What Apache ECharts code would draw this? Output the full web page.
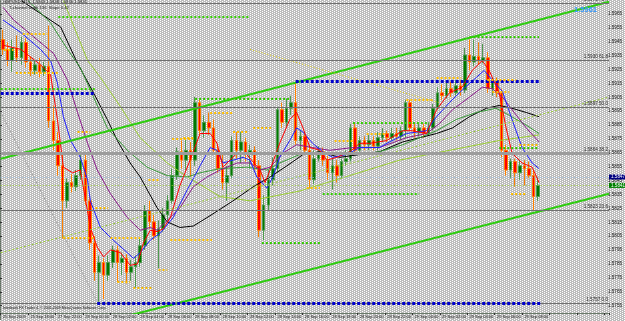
<!DOCTYPE html>
<html>
<head>
<meta charset="utf-8">
<script src="https://cdn.jsdelivr.net/npm/echarts@6/dist/echarts.min.js"></script>
<style>
html, body { margin: 0; padding: 0; }
#chart { width: 625px; height: 321px; }
</style>
</head>
<body>
<div id="chart"></div>
<script>
// bottom scale, one label every 6 bars
const timeLabels = ['25 Sep 2009', '25 Sep 18:00', '27 Sep 22:00', '28 Sep 00:00', '28 Sep 02:00', '28 Sep 04:00',
  '28 Sep 06:00', '28 Sep 08:00', '28 Sep 10:00', '28 Sep 12:00', '28 Sep 14:00', '28 Sep 16:00', '28 Sep 18:00',
  '28 Sep 20:00', '28 Sep 22:00', '29 Sep 00:00', '29 Sep 02:00', '29 Sep 04:00', '29 Sep 06:00', '29 Sep 08:00'];
const slotCount = 133; // bars + empty shift space on the right

// [open, close, low, high]
const candles = [
  [1.5945, 1.5938, 1.5934, 1.5952], [1.5938, 1.5930, 1.5926, 1.5943], [1.5930, 1.5939, 1.5922, 1.5945],
  [1.5939, 1.5932, 1.5929, 1.5948], [1.5932, 1.5943, 1.5927, 1.5947], [1.5943, 1.5929, 1.5925, 1.5946],
  [1.5929, 1.5923, 1.5919, 1.5933], [1.5923, 1.5927, 1.5920, 1.5930], [1.5927, 1.5922, 1.5918, 1.5932],
  [1.5922, 1.5926, 1.5919, 1.5929], [1.5926, 1.5887, 1.5882, 1.5955], [1.5887, 1.5873, 1.5866, 1.5898],
  [1.5873, 1.5855, 1.5848, 1.5879], [1.5855, 1.5830, 1.5803, 1.5865], [1.5830, 1.5843, 1.5825, 1.5846],
  [1.5843, 1.5840, 1.5836, 1.5849], [1.5840, 1.5848, 1.5837, 1.5852], [1.5848, 1.5859, 1.5845, 1.5865],
  [1.5859, 1.5830, 1.5827, 1.5863], [1.5830, 1.5800, 1.5795, 1.5834], [1.5800, 1.5779, 1.5773, 1.5805],
  [1.5779, 1.5786, 1.5758, 1.5791], [1.5786, 1.5777, 1.5760, 1.5789], [1.5777, 1.5786, 1.5773, 1.5791],
  [1.5786, 1.5795, 1.5782, 1.5798], [1.5795, 1.5786, 1.5772, 1.5798], [1.5786, 1.5789, 1.5777, 1.5793],
  [1.5789, 1.5779, 1.5771, 1.5792], [1.5779, 1.5783, 1.5773, 1.5788], [1.5783, 1.5786, 1.5768, 1.5791],
  [1.5786, 1.5798, 1.5783, 1.5803], [1.5798, 1.5823, 1.5795, 1.5827], [1.5823, 1.5815, 1.5810, 1.5830],
  [1.5815, 1.5805, 1.5802, 1.5820], [1.5805, 1.5810, 1.5782, 1.5816], [1.5810, 1.5820, 1.5808, 1.5825],
  [1.5820, 1.5830, 1.5816, 1.5834], [1.5830, 1.5848, 1.5828, 1.5853], [1.5848, 1.5865, 1.5845, 1.5868],
  [1.5865, 1.5859, 1.5853, 1.5873], [1.5859, 1.5866, 1.5852, 1.5875], [1.5866, 1.5859, 1.5847, 1.5872],
  [1.5859, 1.5900, 1.5855, 1.5904], [1.5900, 1.5880, 1.5877, 1.5902], [1.5880, 1.5886, 1.5875, 1.5891],
  [1.5886, 1.5882, 1.5877, 1.5893], [1.5882, 1.5866, 1.5863, 1.5888], [1.5866, 1.5853, 1.5850, 1.5870],
  [1.5853, 1.5843, 1.5838, 1.5863], [1.5843, 1.5848, 1.5830, 1.5855], [1.5848, 1.5873, 1.5846, 1.5876],
  [1.5873, 1.5866, 1.5860, 1.5879], [1.5866, 1.5872, 1.5857, 1.5879], [1.5872, 1.5863, 1.5858, 1.5875],
  [1.5863, 1.5866, 1.5853, 1.5870], [1.5866, 1.5855, 1.5852, 1.5869], [1.5855, 1.5809, 1.5804, 1.5859],
  [1.5809, 1.5827, 1.5802, 1.5834], [1.5827, 1.5845, 1.5823, 1.5852], [1.5845, 1.5853, 1.5841, 1.5861],
  [1.5853, 1.5895, 1.5850, 1.5897], [1.5895, 1.5886, 1.5882, 1.5900], [1.5886, 1.5896, 1.5883, 1.5903],
  [1.5896, 1.5900, 1.5891, 1.5905], [1.5900, 1.5873, 1.5870, 1.5914], [1.5873, 1.5876, 1.5866, 1.5880],
  [1.5876, 1.5866, 1.5863, 1.5879], [1.5866, 1.5845, 1.5839, 1.5870], [1.5845, 1.5860, 1.5842, 1.5866],
  [1.5860, 1.5865, 1.5858, 1.5869], [1.5865, 1.5859, 1.5855, 1.5868], [1.5859, 1.5850, 1.5845, 1.5862],
  [1.5850, 1.5855, 1.5838, 1.5860], [1.5855, 1.5848, 1.5843, 1.5859], [1.5848, 1.5858, 1.5846, 1.5860],
  [1.5858, 1.5860, 1.5855, 1.5866], [1.5860, 1.5882, 1.5858, 1.5885], [1.5882, 1.5866, 1.5864, 1.5886],
  [1.5866, 1.5873, 1.5865, 1.5876], [1.5873, 1.5870, 1.5866, 1.5876], [1.5870, 1.5873, 1.5866, 1.5877],
  [1.5873, 1.5869, 1.5866, 1.5876], [1.5869, 1.5875, 1.5866, 1.5879], [1.5875, 1.5878, 1.5872, 1.5882],
  [1.5878, 1.5875, 1.5872, 1.5880], [1.5875, 1.5878, 1.5873, 1.5882], [1.5878, 1.5876, 1.5873, 1.5882],
  [1.5876, 1.5880, 1.5873, 1.5883], [1.5880, 1.5900, 1.5875, 1.5902], [1.5900, 1.5882, 1.5880, 1.5902],
  [1.5882, 1.5879, 1.5875, 1.5885], [1.5879, 1.5882, 1.5876, 1.5885], [1.5882, 1.5878, 1.5875, 1.5885],
  [1.5878, 1.5882, 1.5876, 1.5886], [1.5882, 1.5896, 1.5880, 1.5899], [1.5896, 1.5907, 1.5895, 1.5911],
  [1.5907, 1.5905, 1.5902, 1.5913], [1.5905, 1.5910, 1.5903, 1.5916], [1.5910, 1.5907, 1.5904, 1.5915],
  [1.5907, 1.5912, 1.5905, 1.5916], [1.5912, 1.5909, 1.5905, 1.5916], [1.5909, 1.5934, 1.5907, 1.5939],
  [1.5934, 1.5929, 1.5923, 1.5945], [1.5929, 1.5933, 1.5926, 1.5945], [1.5933, 1.5930, 1.5927, 1.5943],
  [1.5930, 1.5932, 1.5928, 1.5942], [1.5932, 1.5910, 1.5907, 1.5936], [1.5910, 1.5915, 1.5905, 1.5918],
  [1.5915, 1.5907, 1.5904, 1.5918], [1.5907, 1.5866, 1.5861, 1.5910], [1.5866, 1.5852, 1.5848, 1.5870],
  [1.5852, 1.5858, 1.5846, 1.5860], [1.5858, 1.5850, 1.5840, 1.5860], [1.5850, 1.5855, 1.5845, 1.5859],
  [1.5855, 1.5853, 1.5841, 1.5859], [1.5853, 1.5848, 1.5846, 1.5858], [1.5848, 1.5833, 1.5823, 1.5852],
  [1.5833, 1.5841, 1.5830, 1.5847]
];

// moving averages: [bar, price]
const maRed = [[0, 1.5941], [3.9, 1.5938], [8.2, 1.5927], [10.4, 1.5920], [11.9, 1.5888], [13.2, 1.5854], [15.2, 1.5850],
  [16.9, 1.5852], [19.1, 1.5811], [20.6, 1.5797], [22, 1.5790], [23.5, 1.5795], [25.7, 1.5793], [27.8, 1.5784],
  [29.4, 1.5785], [30.7, 1.5800], [32.2, 1.5809], [33.7, 1.5808], [35, 1.5810], [36.6, 1.5818], [38.7, 1.5841],
  [40.9, 1.5859], [43.1, 1.5878], [45.3, 1.5878], [46.8, 1.5871], [48.1, 1.5854], [49.6, 1.5859], [51.2, 1.5864],
  [53.3, 1.5863], [56.2, 1.5852], [57.3, 1.5843], [58.4, 1.5852], [60.5, 1.5871], [62.7, 1.5888], [64.2, 1.5893],
  [65.6, 1.5882], [67.1, 1.5868], [69.3, 1.5866], [70.8, 1.5859], [73, 1.5861], [75.8, 1.5865], [78, 1.5871],
  [80.2, 1.5871], [83.9, 1.5873], [87.4, 1.5880], [89.5, 1.5880], [92.6, 1.5878], [94.8, 1.5895], [97.6, 1.5907],
  [100.4, 1.5911], [102.6, 1.5923], [104.8, 1.5930], [106.3, 1.5923], [108.5, 1.5907], [110, 1.5882], [111.3, 1.5864],
  [113.5, 1.5857], [115.7, 1.5854], [117.2, 1.5843]];
const maBlue = [[0, 1.5959], [3.9, 1.5950], [8.2, 1.5938], [10.4, 1.5930], [11.9, 1.5914], [13.2, 1.5890], [14.8, 1.5873],
  [16.9, 1.5861], [18.5, 1.5845], [19.1, 1.5830], [21.3, 1.5811], [24.1, 1.5802], [27.2, 1.5793], [28.5, 1.5789],
  [30, 1.5793], [32.2, 1.5802], [34.4, 1.5807], [37.2, 1.5818], [40.3, 1.5838], [43.1, 1.5855], [45.3, 1.5868],
  [46.8, 1.5866], [48.1, 1.5857], [50.3, 1.5859], [52.5, 1.5861], [54, 1.5859], [55.5, 1.5847], [57.7, 1.5839],
  [59, 1.5847], [60.5, 1.5861], [62.7, 1.5873], [64.2, 1.5882], [65.6, 1.5879], [67.7, 1.5871], [69.9, 1.5865],
  [72.1, 1.5861], [75.1, 1.5863], [78, 1.5868], [82.3, 1.5868], [84.5, 1.5872], [88.2, 1.5878], [92.6, 1.5880],
  [94.8, 1.5890], [97.6, 1.5900], [100.4, 1.5909], [103.5, 1.5918], [105.2, 1.5923], [107, 1.5916], [109.2, 1.5908],
  [111.3, 1.5888], [113.5, 1.5868], [115.7, 1.5857], [117.2, 1.5853]];
const maPurple = [[0, 1.5968], [2.3, 1.5959], [6.7, 1.5947], [11.1, 1.5935], [14.1, 1.5916], [16.3, 1.5893], [18.5, 1.5871],
  [20.6, 1.5852], [23.5, 1.5835], [27.2, 1.5818], [30, 1.5809], [32.2, 1.5811], [33.7, 1.5809], [35.9, 1.5816],
  [38.7, 1.5825], [41.6, 1.5840], [44.6, 1.5847], [47.5, 1.5852], [51.2, 1.5857], [54, 1.5857], [56.2, 1.5852],
  [58.4, 1.5854], [61.2, 1.5864], [64.2, 1.5870], [67.7, 1.5868], [71.4, 1.5866], [76.5, 1.5868], [82.3, 1.5868],
  [88.2, 1.5875], [92.6, 1.5878], [95.4, 1.5885], [98.3, 1.5895], [102, 1.5904], [104.8, 1.5911], [107, 1.5910],
  [109.2, 1.5904], [111.3, 1.5895], [114.4, 1.5882], [117.2, 1.5872]];
const maGreen = [[5.4, 1.5973], [10.4, 1.5957], [14.1, 1.5938], [16.9, 1.5925], [19.8, 1.5904], [22.8, 1.5882],
  [27.2, 1.5866], [31.5, 1.5854], [35.9, 1.5848], [40.3, 1.5847], [43.1, 1.5850], [47.5, 1.5853], [53.3, 1.5854],
  [57.7, 1.5852], [60.5, 1.5857], [64.9, 1.5863], [69.3, 1.5864], [73.6, 1.5864], [78, 1.5863], [82.3, 1.5865],
  [87.4, 1.5870], [94.8, 1.5880], [99.1, 1.5888], [103.5, 1.5893], [107.8, 1.5896], [110.7, 1.5891], [114.4, 1.5884],
  [117.2, 1.5878]];
const maBlack = [[3.9, 1.5973], [12.6, 1.5954], [16.3, 1.5928], [19.8, 1.5907], [22.8, 1.5888], [25, 1.5873],
  [27.8, 1.5857], [30, 1.5847], [33.7, 1.5825], [35.9, 1.5815], [38.7, 1.5811], [41.6, 1.5812], [44.6, 1.5818],
  [47, 1.5823], [50.3, 1.5830], [54.7, 1.5840], [58.4, 1.5847], [62.1, 1.5855], [65.6, 1.5863], [69.3, 1.5865],
  [73.6, 1.5861], [78, 1.5863], [82.3, 1.5865], [87.4, 1.5872], [94.8, 1.5878], [98.3, 1.5882], [102, 1.5890],
  [105.7, 1.5896], [108.5, 1.5898], [111.3, 1.5896], [114.4, 1.5893], [117.2, 1.5890]];
const maSlow = [[13.2, 1.5973], [18.5, 1.5930], [21.3, 1.5918], [25.7, 1.5897], [30, 1.5875], [35.9, 1.5857],
  [40.3, 1.5847], [47.5, 1.5833], [54, 1.5830], [64.9, 1.5837], [75.8, 1.5848], [86.7, 1.5859], [97.6, 1.5866],
  [108.5, 1.5873], [117.2, 1.5877]];

// regression channel and other drawn lines: [bar, price]
const channelUpper = [[-0.5, 1.5860], [132.5, 1.5972]];
const channelLower = [[-0.5, 1.5725], [132.5, 1.5835]];
const channelMid = [[-0.5, 1.5793], [132.5, 1.5904]];
const greyDiagonal = [[-0.5, 1.5893], [20.6, 1.5758]];
const yellowDiagonal = [[54, 1.5938], [95.4, 1.5900]];

// fibonacci levels
const fibPrices = [1.5757, 1.5823, 1.5864, 1.5897, 1.5930, 1.5971];
const fibNames = ['0.0', '23.6', '38.2', '50.0', '61.8', '76.4'];
const askPrice = 1.5847;
const bidPrice = 1.5841;
const channelValue = '1.5961';

// horizontal dotted levels: [fromBar, toBar, price]
const greenLevels = [[12.1, 54, 1.5961], [-0.5, 20.2, 1.5910], [102, 117.2, 1.5947], [42, 62.7, 1.5903],
  [76.5, 93.2, 1.5886], [108.5, 117.2, 1.5868], [69.9, 91, 1.5835], [56.6, 69.3, 1.5800]];
const blueLevels = [[-0.5, 20.2, 1.5907], [64, 117.6, 1.5915], [20.6, 117.6, 1.5757]];
const yellowLevels = [[4.3, 9.7, 1.5949], [2.8, 12.1, 1.5921], [0.2, 2.3, 1.5938], [16.3, 19.1, 1.5879],
  [37, 41.6, 1.5874], [31.8, 34.4, 1.5845], [20.2, 23, 1.5825], [13.2, 19.8, 1.5804], [23.5, 30, 1.5804],
  [36.6, 45.7, 1.5802], [34, 35.9, 1.5781], [25, 27.8, 1.5772], [28.5, 32.9, 1.5768], [45.3, 50.1, 1.5893],
  [50.3, 53.6, 1.5879], [54.7, 58.8, 1.5882], [39.4, 41.6, 1.5875], [66.4, 69.3, 1.5839], [72.5, 76.5, 1.5873],
  [79.5, 83.9, 1.5878], [94.8, 100.2, 1.5918], [105.9, 112.2, 1.5916], [107, 110.7, 1.5908], [88.2, 93.9, 1.5902],
  [112.9, 117.2, 1.5870], [111.1, 114.4, 1.5835]];

// dotted grey background like the terminal
const tile = document.createElement('canvas');
tile.width = 4; tile.height = 2;
const tc = tile.getContext('2d');
tc.fillStyle = '#bcbcbc'; tc.fillRect(0, 0, 4, 2);
tc.fillStyle = '#ffffff'; tc.fillRect(0, 0, 1, 1); tc.fillRect(2, 1, 1, 1);
const dom = document.getElementById('chart');
dom.style.backgroundImage = 'url(' + tile.toDataURL() + ')';

const chart = echarts.init(dom, null, { renderer: 'canvas' });

const firstSlot = -0.5, lastSlot = slotCount - 0.5;
function segs(list) {
  return list.map(s => [{ coord: [s[0], s[2]] }, { coord: [s[1], s[2]] }]);
}
function fullLine(p, lineStyle, label) {
  return [{ coord: [firstSlot, p], lineStyle: lineStyle, label: label }, { coord: [lastSlot, p] }];
}
function lineSeries(name, data, color, width, type, z) {
  return {
    name: name, type: 'line', xAxisIndex: 1, yAxisIndex: 0, data: data,
    symbol: 'none', silent: true, z: z || 3,
    lineStyle: { color: color, width: width, type: type || 'solid' }
  };
}
const smallText = { fontFamily: 'Liberation Sans', color: '#1a1a1a' };

const slots = [];
for (let i = 0; i < slotCount; i++) slots.push(String(i));

const fibData = fibPrices.map((p, i) => fullLine(p,
  i === 2 ? { width: 3, color: '#9c9c9c', type: 'solid' } : { width: 1, color: '#707070', type: 'solid' },
  { show: true, position: 'insideEndTop', distance: 1, fontSize: 4.6, color: '#303030',
    formatter: p.toFixed(4) + ' ' + fibNames[i] }));
const priceData = [
  fullLine(askPrice, { color: '#9cc0e4', type: [1, 2], width: 1 },
    { show: true, position: 'end', distance: 0, formatter: askPrice.toFixed(4), backgroundColor: '#000080',
      color: '#ffffff', padding: [0, 2], fontSize: 4.6 }),
  fullLine(bidPrice, { color: '#9acd32', type: [1, 2], width: 1 },
    { show: true, position: 'end', distance: 0, formatter: bidPrice.toFixed(4), backgroundColor: '#008000',
      color: '#ffffff', padding: [0, 2], fontSize: 4.6 })
];

const option = {
  animation: false,
  backgroundColor: 'transparent',
  textStyle: { fontFamily: 'Liberation Sans' },
  title: [
    { text: 'GBPUSD,M15  1.5843 1.5848 1.5836 1.5841', left: 3, top: 0, padding: 0,
      textStyle: Object.assign({ fontSize: 4.2, fontWeight: 'normal' }, smallText) },
    { text: 'T-channel width 136  Slope 0.42', left: 9, top: 6, padding: 0,
      textStyle: Object.assign({ fontSize: 4.2, fontWeight: 'normal' }, smallText) },
    { text: 'Interbank FX Trader 4, \u00a9 2001-2009 MetaQuotes Software Corp.', left: 3, top: 306, padding: 0,
      textStyle: Object.assign({ fontSize: 3.6, fontWeight: 'normal' }, smallText) },
    { text: channelValue, right: 28, top: 6, padding: 0,
      textStyle: { fontSize: 7.5, fontWeight: 'bold', color: '#3399ff', fontFamily: 'Liberation Sans' } }
  ],
  grid: [
    { left: 0, top: 1, width: 609, height: 312 },
    { left: 0, top: -2.5, width: 609, height: 322.1 }
  ],
  xAxis: [
    {
      type: 'category', gridIndex: 0, data: slots, boundaryGap: true,
      axisLine: { lineStyle: { color: '#6a7a6a', width: 1 } },
      axisTick: { show: true, interval: 5, length: 2, lineStyle: { color: '#333' } },
      axisLabel: {
        interval: 5, align: 'left', margin: 2, fontSize: 4, color: '#1a1a1a',
        formatter: (v, idx) => timeLabels[idx / 6] || ''
      },
      splitLine: { show: false }
    },
    { type: 'value', gridIndex: 0, min: firstSlot, max: lastSlot, show: false },
    { type: 'value', gridIndex: 1, min: 0, max: 1, show: false }
  ],
  yAxis: [
    { type: 'value', gridIndex: 0, min: 1.5750, max: 1.59725, show: false },
    {
      type: 'value', gridIndex: 1, position: 'right', min: 1.5745, max: 1.5975, interval: 0.001,
      axisLine: { show: true, lineStyle: { color: '#5c6b5c', type: [1, 1] } },
      axisTick: { show: true, length: 2, lineStyle: { color: '#333' } },
      splitLine: { show: false },
      axisLabel: {
        margin: 2, fontSize: 4.6, color: '#1a1a1a', showMinLabel: false, showMaxLabel: false,
        formatter: v => v.toFixed(4)
      }
    }
  ],
  series: [
    {
      type: 'line', xAxisIndex: 1, yAxisIndex: 0, data: channelUpper, symbol: 'none', silent: true, z: 1,
      lineStyle: { opacity: 0 },
      markLine: {
        symbol: 'none', silent: true, animation: false,
        label: { show: false },
        data: fibData.concat(priceData)
      }
    },
    {
      type: 'candlestick', xAxisIndex: 0, yAxisIndex: 0, data: candles, barWidth: 3, silent: true, z: 2,
      itemStyle: { color: '#007800', color0: '#ff0000', borderColor: '#4f9a4f', borderColor0: '#ff8000', borderWidth: 1 }
    },
    lineSeries('slow', maSlow, '#9acd32', 1),
    lineSeries('black', maBlack, '#000000', 1),
    lineSeries('green', maGreen, '#3a9a3a', 1),
    lineSeries('purple', maPurple, '#8b1a8b', 1),
    lineSeries('blue', maBlue, '#2020ff', 1),
    lineSeries('red', maRed, '#ff0000', 1),
    lineSeries('upper', channelUpper, '#2ecc10', 2),
    lineSeries('lower', channelLower, '#2ecc10', 2),
    lineSeries('mid', channelMid, '#9acd32', 1, [2, 2]),
    lineSeries('greyDiag', greyDiagonal, '#8c8c8c', 1, [1, 2]),
    lineSeries('yellowDiag', yellowDiagonal, '#e6d200', 1, [1, 2]),
    {
      type: 'line', xAxisIndex: 1, yAxisIndex: 0, data: [], symbol: 'none', silent: true, z: 4,
      markLine: {
        symbol: 'none', silent: true, animation: false, label: { show: false },
        lineStyle: { color: '#33cc00', width: 2, type: [2, 2] },
        data: segs(greenLevels)
      }
    },
    {
      type: 'line', xAxisIndex: 1, yAxisIndex: 0, data: [], symbol: 'none', silent: true, z: 4,
      markLine: {
        symbol: 'none', silent: true, animation: false, label: { show: false },
        lineStyle: { color: '#0000cc', width: 3, type: [3, 2] },
        data: segs(blueLevels)
      }
    },
    {
      type: 'line', xAxisIndex: 1, yAxisIndex: 0, data: [], symbol: 'none', silent: true, z: 4,
      markLine: {
        symbol: 'none', silent: true, animation: false, label: { show: false },
        lineStyle: { color: '#ffbf00', width: 2, type: [2, 2] },
        data: segs(yellowLevels)
      }
    }
  ]
};
chart.setOption(option);
</script>
</body>
</html>
